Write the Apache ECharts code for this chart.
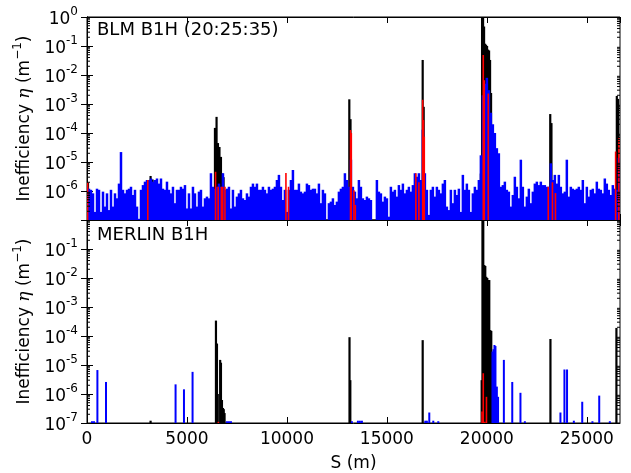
<!DOCTYPE html>
<html>
<head>
<meta charset="utf-8">
<script src="https://cdn.jsdelivr.net/npm/echarts@6/dist/echarts.min.js"></script>
<style>
html,body{margin:0;padding:0;background:#fff;}
#c{width:631px;height:473px;}
</style>
</head>
<body>
<div id="c"></div>
<script>
// ---------- DATA ----------
const sMax = 26659;
const xTicks = [0, 5000, 10000, 15000, 20000, 25000];
const yMin = 1e-7, yMax = 1;

// BLM measurement (top panel): cold losses every 100 m starting at s = 0
const blmColdStep = 100;
const blmCold = [
1.4e-6,1.2e-6,1.1e-6,8.3e-7,1.9e-7,1.2e-6,1.1e-6,1.9e-7,9.5e-7,2.9e-7,
8.3e-7,2.2e-7,1.1e-6,2.9e-7,8.3e-7,5.6e-7,1.8e-6,2.2e-5,1.1e-6,8.3e-7,
1.1e-6,1.2e-6,1.4e-6,7.3e-7,1.1e-6,2.9e-7,1.1e-7,1.1e-6,1.6e-6,2.1e-6,
2.4e-6,2.4e-6,2.7e-6,2.1e-6,2.4e-6,2.7e-6,1.8e-6,2.7e-6,1.2e-6,1.1e-6,
2.1e-6,1.1e-6,8.3e-7,1.4e-6,3.8e-7,1.1e-6,1.1e-6,1.4e-6,1.2e-6,1.6e-6,
2.5e-7,8.3e-7,2.5e-7,1.4e-6,8.3e-7,2.9e-7,9.5e-7,1.1e-6,2.9e-7,5.6e-7,
6.4e-7,5.6e-7,4.1e-6,1.4e-6,1.2e-6,1.4e-6,1.8e-6,1.4e-6,4.1e-6,1.1e-6,
1.2e-6,1.4e-6,2.5e-7,1.1e-6,2.9e-7,6.4e-7,8.3e-7,1.1e-6,5.6e-7,4.9e-7,
8.3e-7,6.4e-7,1.4e-6,1.8e-6,1.4e-6,1.8e-6,1.1e-6,1.1e-6,1.4e-6,1.1e-6,
8.3e-7,1.4e-6,1.1e-6,1.2e-6,1.4e-6,2.4e-6,3.6e-6,1.4e-6,4.9e-7,1.1e-6,
1.9e-7,1.1e-6,2.4e-6,5.3e-6,1.1e-6,1.1e-6,1.8e-6,9.5e-7,8.3e-7,9.5e-7,
1.8e-6,1.6e-6,1.1e-6,1.2e-6,1.2e-6,8.3e-7,1.8e-6,3.8e-7,1.1e-6,8.3e-7,
null,3.8e-7,4.3e-7,5.6e-7,3.3e-7,4.3e-7,9.5e-7,1.2e-6,1.4e-6,4.1e-6,
2.4e-6,1.4e-6,1.2e-5,1.4e-6,9.5e-7,5.6e-7,2.4e-6,1.4e-6,5.6e-7,4.9e-7,
6.4e-7,5.6e-7,4.9e-7,null,null,2.4e-6,9.5e-7,8.3e-7,4.3e-7,6.4e-7,
5.6e-7,1.3e-7,1.4e-6,9.5e-7,1.1e-6,6.4e-7,1.6e-6,1.1e-6,1.8e-6,8.3e-7,
1.1e-6,1.4e-6,9.5e-7,1.6e-6,4.1e-6,3.1e-6,4.1e-6,2.4e-6,1.3e-4,4.1e-6,
1.1e-6,1.5e-7,1.1e-6,1.4e-6,6.4e-7,1.4e-6,1.1e-6,8.3e-7,1.8e-6,2.4e-6,
2.9e-7,2.2e-7,1.1e-6,3.8e-7,1.1e-6,7.3e-7,1.2e-6,1.9e-7,3.6e-6,1.1e-6,
1.8e-6,1.1e-6,1.9e-7,8.3e-7,1.4e-6,1.1e-6,2.4e-6,1.7e-5,2e-3,5e-3,
8e-3,3e-3,5e-4,2e-4,1e-4,3e-5,2e-5,1.4e-6,1.6e-6,2.1e-6,
1.1e-6,9.5e-7,2.9e-7,7.3e-7,3.1e-6,1.4e-6,5.6e-7,1.2e-5,1.4e-6,2.9e-7,
6.4e-7,1.2e-6,3.8e-7,9.5e-7,1.8e-6,2.1e-6,1.6e-6,2.1e-6,1.6e-6,1.6e-6,
1.4e-6,1.4e-6,9.0e-6,2.4e-6,3.6e-6,1.8e-6,3.6e-6,1.4e-6,8.3e-7,9.5e-7,
1.2e-5,6.4e-7,1.4e-6,1.2e-6,1.1e-6,1.2e-6,1.4e-6,1.1e-6,2.4e-6,3.8e-7,
1.4e-6,6.4e-7,1.1e-6,1.2e-6,8.3e-7,2.1e-6,1.2e-6,1.1e-6,8.3e-7,2.7e-6,
1.8e-6,1.1e-6,7.3e-7,1.6e-6,1.2e-6,1.1e-6,1.4e-5
];
// BLM collimator losses (black)
const blmCollS = [50,3180,3280,6400,6480,6550,6625,6700,6775,6830,13120,13180,16480,16790,16840,
  19700,19760,19810,19860,19910,19960,20010,20060,20110,20160,20210,23080,23170,23230,26500,26560];
const blmCollV = [1.9e-6,3.3e-6,2.5e-6,1.5e-4,3.6e-4,4.5e-5,3.3e-5,1.5e-5,4e-6,3e-6,1.45e-3,3e-4,2.8e-6,3.3e-2,8e-4,
  4e-6,1.5,1.2,0.47,0.12,0.11,0.1,0.075,0.07,0.033,2.4e-3,6e-7,4.5e-4,2.2e-4,1.9e-3,1.5e-3];
// BLM warm losses (red)
const blmWarmS = [30,3040,6430,6560,6720,6790,6900,9950,10080,13180,13220,13350,13420,16450,16600,16790,16830,16870,
  19820,19870,20070,23070,23280,23430,26440,26600];
const blmWarmV = [2e-6,2.4e-6,4.6e-6,1.4e-6,1.4e-6,1.4e-6,1.4e-6,4.2e-6,1.4e-6,1.27e-4,1e-4,1.06e-6,3.3e-7,4.1e-6,2e-6,1.4e-3,2.8e-4,7.5e-5,
  4.9e-2,6.6e-3,2.3e-3,1.4e-6,2e-6,8.5e-7,2.3e-5,6.6e-5];

// MERLIN simulation (bottom panel)
const merColdS = [250,350,520,950,4430,4850,5280,7000,7100,7200,13250,13550,13650,13750,16920,17000,17120,17320,17570,
  20280,20330,20380,20430,20500,20560,20850,21270,21680,21900,23680,23880,24010,24350,24770,25280,25620,26150];
const merColdV = [1.15e-7,1.15e-7,6.7e-6,2.6e-6,2.15e-6,1.45e-6,5.8e-6,1.15e-7,1.15e-7,1.15e-7,1.15e-7,1.2e-7,1.2e-7,1.2e-7,1.2e-7,1.2e-7,2.3e-7,1.2e-7,1.15e-7,
  2.9e-5,3.5e-5,4.9e-5,4.5e-5,1.8e-6,8e-7,1.5e-5,2.6e-6,1.1e-6,1.15e-7,2.3e-7,7e-6,7e-6,1.2e-7,5.4e-7,1.15e-7,8.8e-7,1.15e-7];
const merCollS = [3180,6450,6500,6540,6660,6700,6750,6800,6840,6880,13130,13170,16790,
  19740,19780,19820,19870,19920,19970,20020,20070,20120,20170,20220,23180,26480];
const merCollV = [1.2e-7,3.4e-4,5.5e-5,1e-6,1.5e-5,1.2e-5,6.2e-7,3.3e-7,3e-7,2.2e-7,9.1e-5,3e-6,7.2e-5,
  3e-6,1.5,1.2,2.8e-2,2.6e-2,1.1e-2,1.0e-2,8.5e-3,8.5e-3,1.6e-4,1.5e-4,7.9e-5,1.9e-4];
const merWarmS = [6570,19760,19820,19900,19980];
const merWarmV = [1.1e-7,2.5e-7,5.2e-6,1.1e-7,8e-7];

// ---------- BUILD ----------
function pairs(S, V){ const out=[]; for(let i=0;i<S.length;i++){ if(V[i]!=null) out.push([S[i],V[i]]);} return out; }
const blmColdData = []; blmCold.forEach((v,i)=>{ if(v!=null) blmColdData.push([i*blmColdStep, v]); });

const minorVals = [];
for (let e=-7; e<0; e++) for (let m=2; m<=9; m++) minorVals.push([0, m*Math.pow(10,e)]);

const FONT = 'DejaVu Sans';
function barRender(color, w){
  return function(params, api){
    const s = api.value(0), v = api.value(1);
    const cs = params.coordSys;
    const top = api.coord([s, v]);
    const base = api.coord([s, yMin]);
    const y0 = Math.max(top[1], cs.y);
    const x0 = Math.max(top[0]-w/2, cs.x);
    const x1 = Math.min(top[0]+w/2, cs.x+cs.width);
    if (x1<=x0 || base[1]<=y0) return null;
    return {type:'rect', shape:{x:x0, y:y0, width:x1-x0, height:base[1]-y0}, style:{fill:color}};
  };
}
function minorRender(params, api){
  const cs = params.coordSys;
  const p = api.coord([0, api.value(1)]);
  const L = 3;
  return {type:'group', children:[
    {type:'line', shape:{x1:cs.x, y1:p[1], x2:cs.x+L, y2:p[1]}, style:{stroke:'#000', lineWidth:1}},
    {type:'line', shape:{x1:cs.x+cs.width, y1:p[1], x2:cs.x+cs.width-L, y2:p[1]}, style:{stroke:'#000', lineWidth:1}}
  ]};
}
function barSeries(data, idx, color, w, z){
  return {type:'custom', xAxisIndex:idx*2, yAxisIndex:idx*2, data:data, renderItem:barRender(color,w),
    encode:{x:0,y:1}, silent:true, animation:false, z:z, clip:false};
}
function ylabFmt(hideExp){
  return function(v){ const e=Math.round(Math.log10(v)); if(e===hideExp) return ''; return '{b|10}{s|'+e+'}'; };
}
const richLab = {
  b:{fontSize:17, fontFamily:FONT, color:'#000', lineHeight:22, verticalAlign:'bottom'},
  s:{fontSize:12, fontFamily:FONT, color:'#000', lineHeight:12, verticalAlign:'top'}
};
const gridH = 203;
const grids = [
  {left:87, right:11, top:17, height:gridH, show:true, borderColor:'#000', borderWidth:1, backgroundColor:'transparent'},
  {left:87, right:11, top:17+gridH, height:gridH, show:true, borderColor:'#000', borderWidth:1, backgroundColor:'transparent'}
];
function xAx(g, pos, labels){
  return {type:'value', gridIndex:g, position:pos, min:0, max:sMax, interval:5000,
    axisLine:{show:true, lineStyle:{color:'#000', width:1}},
    axisTick:{show:true, inside:true, length:6, lineStyle:{color:'#000'},},
    axisLabel:{show:labels, fontSize:17, fontFamily:FONT, color:'#000', margin:8, showMaxLabel:false,
      formatter:function(v){ return xTicks.indexOf(v)>=0 ? String(v) : ''; }},
    splitLine:{show:false},
    name: labels ? 'S (m)' : '', nameLocation:'middle', nameGap:32,
    nameTextStyle:{fontSize:17, fontFamily:FONT, color:'#000'}};
}
const yName = '{n|Inefficiency }{i|η}{n| (m}{s|−1}{n|)}';
function yAx(g, pos, hideExp, labels){
  return {type:'log', logBase:10, gridIndex:g, position:pos, min:yMin, max:yMax, splitNumber:7,
    axisLine:{show:true, lineStyle:{color:'#000', width:1}},
    axisTick:{show:true, inside:true, length:6, lineStyle:{color:'#000'}},
    axisLabel:{show:labels, formatter:ylabFmt(hideExp), rich:richLab, margin:9},
    splitLine:{show:false},
    name: labels ? yName : '', nameLocation:'middle', nameGap:52,
    nameTextStyle:{rich:{
      n:{fontSize:17, fontFamily:FONT, color:'#000', lineHeight:22, verticalAlign:'bottom'},
      i:{fontSize:17, fontFamily:'DejaVu Serif', fontStyle:'italic', color:'#000', lineHeight:22, verticalAlign:'bottom'},
      s:{fontSize:12, fontFamily:FONT, color:'#000', lineHeight:12, verticalAlign:'top'}
    }}};
}

const option = {
  animation:false,
  backgroundColor:'#fff',
  grid: grids,
  xAxis:[xAx(0,'bottom',false), xAx(0,'top',false), xAx(1,'bottom',true), xAx(1,'top',false)],
  yAxis:[yAx(0,'left',-7,true), yAx(0,'right',-7,false), yAx(1,'left',0,true), yAx(1,'right',0,false)],
  title:[
    {text:'BLM B1H (20:25:35)', left:97, top:21, textStyle:{fontSize:18, fontWeight:'normal', fontFamily:FONT, color:'#000'}, padding:0},
    {text:'MERLIN B1H', left:97, top:226, textStyle:{fontSize:18, fontWeight:'normal', fontFamily:FONT, color:'#000'}, padding:0}
  ],
  series:[
    barSeries(pairs(blmCollS, blmCollV), 0, '#000000', 2.2, 2),
    barSeries(blmColdData, 0, '#0000ff', 2.5, 3),
    barSeries(pairs(blmWarmS, blmWarmV), 0, '#ff0000', 1.6, 4),
    barSeries(pairs(merCollS, merCollV), 1, '#000000', 2.2, 2),
    barSeries(pairs(merColdS, merColdV), 1, '#0000ff', 2, 3),
    barSeries(pairs(merWarmS, merWarmV), 1, '#ff0000', 1.6, 4),
    {type:'custom', xAxisIndex:0, yAxisIndex:0, data:minorVals, renderItem:minorRender, encode:{x:0,y:1}, silent:true, z:10},
    {type:'custom', xAxisIndex:2, yAxisIndex:2, data:minorVals, renderItem:minorRender, encode:{x:0,y:1}, silent:true, z:10}
  ]
};
const chart = echarts.init(document.getElementById('c'), null, {renderer:'canvas'});
chart.setOption(option);
</script>
</body>
</html>
